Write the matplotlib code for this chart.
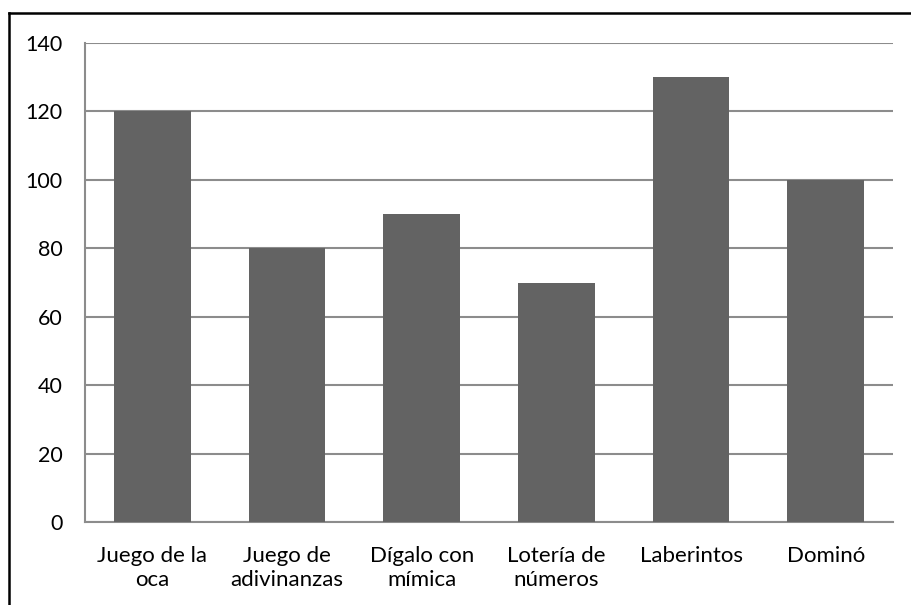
import matplotlib
matplotlib.use("Agg")
import matplotlib.pyplot as plt
from matplotlib.lines import Line2D

categories = ["Juego de la\noca", "Juego de\nadivinanzas", "Dígalo con\nmímica",
              "Lotería de\nnúmeros", "Laberintos", "Dominó"]
values = [120, 80, 90, 70, 130, 100]
yticks = [0, 20, 40, 60, 80, 100, 120, 140]

plt.rcParams['font.family'] = ['Lato', 'DejaVu Sans']

fig = plt.figure(figsize=(9.11, 6.05), dpi=100)
ax = fig.add_axes([85/911, 1 - 522/605, (893-85)/911, (522-43)/605])

x = list(range(len(categories)))
ax.bar(x, values, width=0.571, color="#636363", zorder=3)
ax.set_xlim(-0.5, len(categories) - 0.5)
ax.set_ylim(0, 140)
ax.set_yticks(yticks)
ax.set_yticklabels([str(t) for t in yticks], fontsize=15.5, color="black")
ax.set_xticks(x)
ax.set_xticklabels(categories, fontsize=16, color="black", linespacing=1.25)
ax.tick_params(axis='y', length=0, pad=16)
ax.tick_params(axis='x', length=0, pad=17)
ax.grid(axis='y', color="#8c8c8c", linewidth=1.5, zorder=0)
ax.set_axisbelow(True)
for s in ['top', 'right']:
    ax.spines[s].set_visible(False)
for s in ['left', 'bottom']:
    ax.spines[s].set_color("#8c8c8c")
    ax.spines[s].set_linewidth(1.5)

# outer chart border (top and left visible)
fig.add_artist(Line2D([9/911, 9/911], [0, 1 - 13/605], transform=fig.transFigure,
                      color="black", linewidth=1.8))
fig.add_artist(Line2D([9/911, 1], [1 - 13/605, 1 - 13/605], transform=fig.transFigure,
                      color="black", linewidth=1.8))

fig.savefig("out.png", dpi=100)
